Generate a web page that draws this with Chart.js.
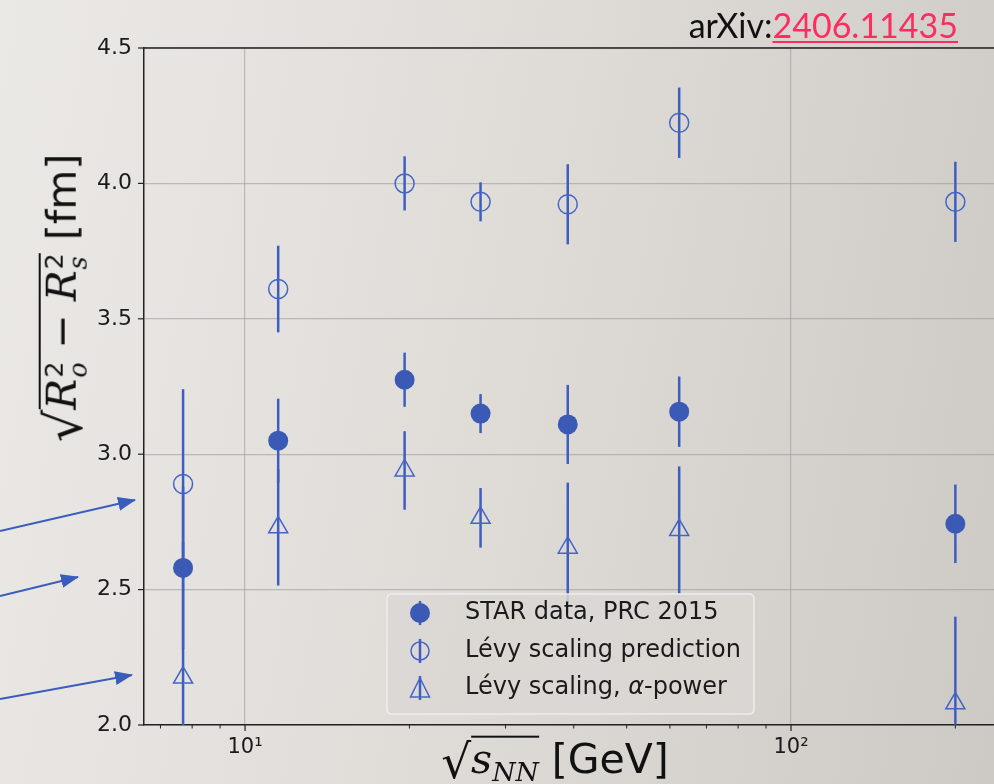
<!DOCTYPE html>
<html>
<head>
<meta charset="utf-8">
<script src="https://cdn.jsdelivr.net/npm/chart.js@4"></script>
<style>
  html, body { margin:0; padding:0; }
  body { width:994px; height:784px; overflow:hidden; position:relative;
         background: linear-gradient(100deg, #ebe9e6 0%, #dfdcd8 50%, #cdcac5 100%); }
  #c { position:absolute; left:0; top:0; }
  .lab { position:absolute; white-space:nowrap; color:#111; font-family:"DejaVu Sans"; }
  .m { font-family:"DejaVu Serif"; font-style:italic; }
  .ov { border-top:2.5px solid #111; padding-top:1px; display:inline-block; line-height:1; }
  .rt { font-family:"DejaVu Serif"; display:inline-block; line-height:1; }
  .ss { display:inline-flex; flex-direction:column; font-size:0.62em; line-height:0.95; vertical-align:0.5em; margin-left:1px; }
  #ylab { left:64px; top:298px; transform: translate(-50%,-50%) rotate(-90deg); font-size:41px; }
  #xlab { left:555px; top:760px; transform: translate(-50%,-50%); font-size:41px; }
  #arx { right:36px; top:4px; font-family:"Lato"; font-size:34px; color:#111; }
  #arx a { color:#ff2d5f; text-decoration:underline; text-decoration-thickness:2px; text-underline-offset:3px; }
  svg { position:absolute; left:0; top:0; pointer-events:none; }
</style>
</head>
<body>
<canvas id="c" width="994" height="784"></canvas>

<div id="ylab" class="lab"><span class="rt" style="font-size:51px;vertical-align:-0.12em">√</span><span class="ov"><span class="m">R</span><span class="ss"><span>2</span><span class="m">o</span></span> − <span class="m">R</span><span class="ss"><span>2</span><span class="m">s</span></span></span> [fm]</div>
<div id="xlab" class="lab"><span class="rt" style="font-size:47px;vertical-align:-0.1em">√</span><span class="ov"><span class="m">s</span><span class="m" style="font-size:0.65em;vertical-align:-0.3em">NN</span></span> [GeV]</div>
<div id="arx" class="lab">arXiv:<a href="#">2406.11435</a></div>

<svg width="994" height="784">
  <defs>
    <marker id="ah" markerWidth="18" markerHeight="14" refX="17" refY="7" orient="auto" markerUnits="userSpaceOnUse">
      <path d="M0,0 L18,7 L0,14 z" fill="#3a5cbc"/>
    </marker>
  </defs>
  <line x1="0" y1="531" x2="135" y2="500" stroke="#3a5cbc" stroke-width="2" marker-end="url(#ah)"/>
  <line x1="0" y1="596" x2="78" y2="577" stroke="#3a5cbc" stroke-width="2" marker-end="url(#ah)"/>
  <line x1="0" y1="699" x2="132" y2="675" stroke="#3a5cbc" stroke-width="2" marker-end="url(#ah)"/>
</svg>

<script>
// ---- data ----
const energies   = [7.7, 11.5, 19.6, 27, 39, 62.4, 200];           // sqrt(s_NN) [GeV]
const starVals   = [2.58, 3.05, 3.275, 3.15, 3.11, 3.157, 2.743];
const starErrs   = [0.30, 0.155, 0.10, 0.072, 0.146, 0.13, 0.145];
const predVals   = [2.89, 3.61, 4.00, 3.932, 3.923, 4.224, 3.932];
const predErrs   = [0.35, 0.16, 0.10, 0.072, 0.148, 0.13, 0.148];
const alphaVals  = [2.175, 2.73, 2.94, 2.765, 2.655, 2.72, 2.08];
const alphaErrs  = [0.50, 0.215, 0.145, 0.11, 0.24, 0.235, 0.32];
const seriesLabels = ['STAR data, PRC 2015', 'Lévy scaling prediction', 'Lévy scaling, α-power'];
const yTicks = [2.0, 2.5, 3.0, 3.5, 4.0, 4.5];
const xMajor = [10, 100];
const xMinor = [7, 8, 9, 20, 30, 40, 50, 60, 70, 80, 90, 200];

const BLUE = '#3a5ab6';
const BLUE_OPEN = '#4565c6';
const BLUE_ERR = '#3d5ec0';

const toPts = vals => energies.map((e, i) => ({ x: e, y: vals[i] }));
const errList = [starErrs, predErrs, alphaErrs];

const errorBars = {
  id: 'errorBars',
  beforeDatasetsDraw(chart) {
    const { ctx, chartArea: a, scales: { x, y } } = chart;
    ctx.save();
    ctx.beginPath(); ctx.rect(a.left, a.top, a.right - a.left, a.bottom - a.top); ctx.clip();
    ctx.strokeStyle = BLUE_ERR; ctx.lineWidth = 2.5;
    chart.data.datasets.forEach((ds, i) => {
      ds.data.forEach((p, j) => {
        const px = x.getPixelForValue(p.x);
        ctx.beginPath();
        ctx.moveTo(px, y.getPixelForValue(p.y + errList[i][j]));
        ctx.lineTo(px, y.getPixelForValue(p.y - errList[i][j]));
        ctx.stroke();
      });
    });
    ctx.restore();
  }
};

const frame = {
  id: 'frame',
  afterDraw(chart) {
    const { ctx, chartArea: a, scales: { x, y } } = chart;
    ctx.save();
    ctx.strokeStyle = '#222'; ctx.lineWidth = 1.5;
    ctx.beginPath(); ctx.moveTo(a.left, a.top); ctx.lineTo(chart.width, a.top); ctx.stroke();
    ctx.lineWidth = 1.2;
    yTicks.forEach(v => {
      const py = y.getPixelForValue(v);
      ctx.beginPath(); ctx.moveTo(a.left - 6, py); ctx.lineTo(a.left, py); ctx.stroke();
    });
    xMajor.forEach(v => {
      const px = x.getPixelForValue(v);
      ctx.beginPath(); ctx.moveTo(px, a.bottom); ctx.lineTo(px, a.bottom + 6); ctx.stroke();
    });
    ctx.lineWidth = 1;
    xMinor.forEach(v => {
      const px = x.getPixelForValue(v);
      if (px < a.left || px > chart.width) return;
      ctx.beginPath(); ctx.moveTo(px, a.bottom); ctx.lineTo(px, a.bottom + 3.5); ctx.stroke();
    });

    // legend
    const lx = 387, ly = 594, lw = 367, lh = 120, r = 5;
    ctx.beginPath();
    ctx.moveTo(lx + r, ly); ctx.lineTo(lx + lw - r, ly); ctx.quadraticCurveTo(lx + lw, ly, lx + lw, ly + r);
    ctx.lineTo(lx + lw, ly + lh - r); ctx.quadraticCurveTo(lx + lw, ly + lh, lx + lw - r, ly + lh);
    ctx.lineTo(lx + r, ly + lh); ctx.quadraticCurveTo(lx, ly + lh, lx, ly + lh - r);
    ctx.lineTo(lx, ly + r); ctx.quadraticCurveTo(lx, ly, lx + r, ly); ctx.closePath();
    ctx.fillStyle = 'rgba(218,215,211,0.85)'; ctx.fill();
    ctx.strokeStyle = 'rgba(240,240,240,0.9)'; ctx.lineWidth = 1.5; ctx.stroke();

    const rows = [613, 651, 688];
    const mx = 420, tx = 465;
    const F = '24px "DejaVu Sans"';
    chart.data.datasets.forEach((ds, i) => {
      const cy = rows[i];
      ctx.strokeStyle = BLUE_ERR; ctx.lineWidth = 2.5;
      ctx.beginPath(); ctx.moveTo(mx, cy - 12); ctx.lineTo(mx, cy + 12); ctx.stroke();
      ctx.lineWidth = 1.5;
      if (i === 0) {
        ctx.fillStyle = BLUE; ctx.beginPath(); ctx.arc(mx, cy, 10, 0, Math.PI * 2); ctx.fill();
      } else if (i === 1) {
        ctx.strokeStyle = BLUE_OPEN; ctx.beginPath(); ctx.arc(mx, cy, 9, 0, Math.PI * 2); ctx.stroke();
      } else {
        ctx.strokeStyle = BLUE_OPEN; ctx.beginPath();
        ctx.moveTo(mx, cy - 10); ctx.lineTo(mx + 9.5, cy + 9); ctx.lineTo(mx - 9.5, cy + 9); ctx.closePath(); ctx.stroke();
      }
      ctx.fillStyle = '#1a1a1a';
      ctx.font = F;
      ctx.textBaseline = 'middle';
      const label = ds.label;
      const ai = label.indexOf('α');
      if (ai >= 0) {
        const pre = label.slice(0, ai), post = label.slice(ai + 1);
        ctx.fillText(pre, tx, cy);
        let w = ctx.measureText(pre).width;
        ctx.font = 'italic ' + F;
        ctx.fillText('α', tx + w, cy);
        w += ctx.measureText('α').width;
        ctx.font = F;
        ctx.fillText(post, tx + w, cy);
      } else {
        ctx.fillText(label, tx, cy);
      }
    });
    ctx.restore();
  }
};

const isMajor = v => xMajor.some(m => Math.abs(v - m) < 1e-6);

new Chart(document.getElementById('c'), {
  type: 'scatter',
  data: {
    datasets: [
      { label: seriesLabels[0], data: toPts(starVals), pointStyle: 'circle', pointRadius: 10, pointHoverRadius: 10,
        backgroundColor: BLUE, borderColor: BLUE, borderWidth: 0 },
      { label: seriesLabels[1], data: toPts(predVals), pointStyle: 'circle', pointRadius: 9.5, pointHoverRadius: 9.5,
        backgroundColor: 'rgba(0,0,0,0)', borderColor: BLUE_OPEN, borderWidth: 1.5 },
      { label: seriesLabels[2], data: toPts(alphaVals), pointStyle: 'triangle', pointRadius: 11, pointHoverRadius: 11,
        backgroundColor: 'rgba(0,0,0,0)', borderColor: BLUE_OPEN, borderWidth: 1.5 }
    ]
  },
  options: {
    responsive: false,
    animation: false,
    devicePixelRatio: 1,
    layout: { autoPadding: false, padding: { top: 48, right: 0, bottom: 0, left: 0 } },
    plugins: { legend: { display: false }, tooltip: { enabled: false } },
    scales: {
      x: {
        type: 'logarithmic', min: 6.53, max: 235.4, position: 'bottom',
        afterFit: s => { s.height = 59; s.paddingLeft = 0; s.paddingRight = 0; },
        afterBuildTicks: s => { s.ticks = xMajor.concat(xMinor).sort((a, b) => a - b).map(v => ({ value: v })); },
        grid: { color: c => (c.tick && isMajor(c.tick.value)) ? 'rgba(150,150,150,0.55)' : 'rgba(0,0,0,0)', lineWidth: 1.2, drawTicks: false },
        border: { color: '#222', width: 1.5 },
        ticks: {
          autoSkip: false, maxRotation: 0, padding: 10, color: '#1a1a1a',
          font: { family: 'DejaVu Sans', size: 21 },
          callback: v => (Math.abs(v - 10) < 1e-6 ? '10¹' : Math.abs(v - 100) < 1e-6 ? '10²' : '')
        }
      },
      y: {
        min: 2.0, max: 4.5,
        afterFit: s => { s.width = 144; s.paddingTop = 0; s.paddingBottom = 0; },
        afterBuildTicks: s => { s.ticks = yTicks.map(v => ({ value: v })); },
        grid: { color: 'rgba(150,150,150,0.55)', lineWidth: 1.2, drawTicks: false },
        border: { color: '#222', width: 1.5 },
        ticks: { padding: 12, color: '#1a1a1a', font: { family: 'DejaVu Sans', size: 22 },
                 callback: v => Number(v).toFixed(1) }
      }
    }
  },
  plugins: [errorBars, frame]
});
</script>
</body>
</html>
